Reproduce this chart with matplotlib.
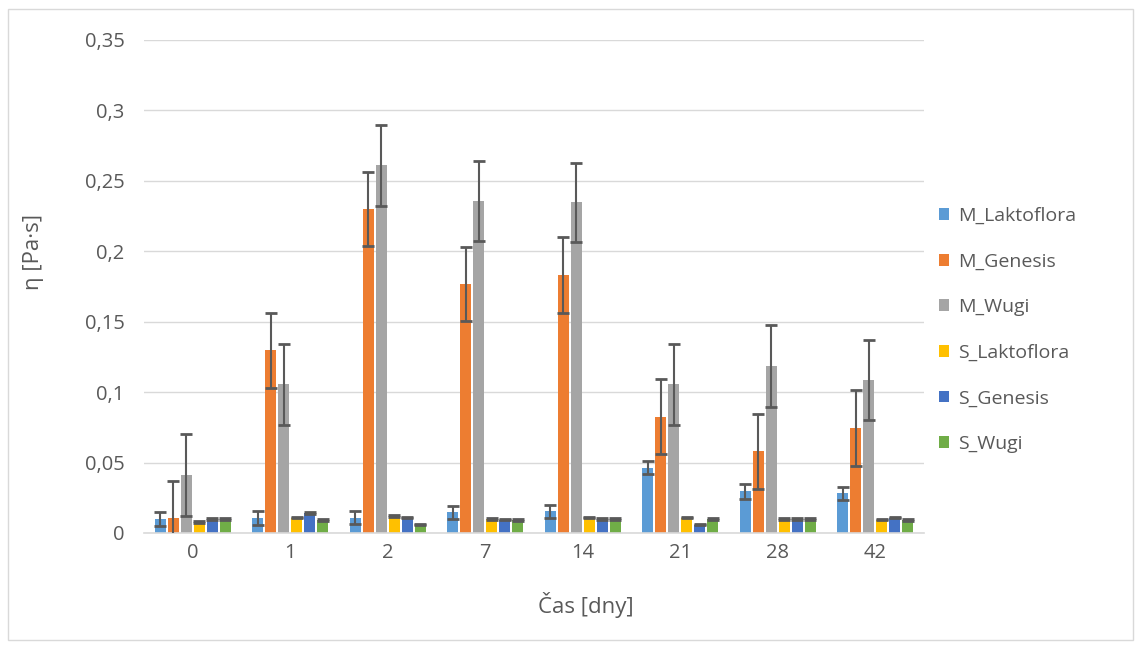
import matplotlib
matplotlib.use("Agg")
import matplotlib.pyplot as plt
import numpy as np
from matplotlib.ticker import FuncFormatter
from matplotlib.patches import Rectangle

categories = ["0", "1", "2", "7", "14", "21", "28", "42"]
series_names = ["M_Laktoflora", "M_Genesis", "M_Wugi", "S_Laktoflora", "S_Genesis", "S_Wugi"]

m_laktoflora = [0.0098, 0.0105, 0.011, 0.0148, 0.0153, 0.0465, 0.0297, 0.0283]
m_genesis = [0.0103, 0.1296, 0.2297, 0.1765, 0.183, 0.0827, 0.0579, 0.0745]
m_wugi = [0.041, 0.1055, 0.261, 0.2357, 0.2347, 0.1057, 0.1185, 0.1083]
s_laktoflora = [0.008, 0.011, 0.012, 0.010, 0.011, 0.011, 0.010, 0.0095]
s_genesis = [0.010, 0.014, 0.011, 0.0095, 0.010, 0.006, 0.010, 0.011]
s_wugi = [0.010, 0.009, 0.006, 0.009, 0.010, 0.010, 0.010, 0.009]

err_m_laktoflora = [0.005, 0.005, 0.0045, 0.0047, 0.0047, 0.0048, 0.0053, 0.0047]
err_m_genesis = [0.0263, 0.0264, 0.0263, 0.0263, 0.0269, 0.0263, 0.0265, 0.0267]
err_m_wugi = [0.029, 0.0289, 0.029, 0.0287, 0.0283, 0.0287, 0.0291, 0.0284]
err_s = [0.0006] * 8

colors = ["#5B9BD5", "#ED7D31", "#A5A5A5", "#FFC000", "#4472C4", "#70AD47"]

values = [m_laktoflora, m_genesis, m_wugi, s_laktoflora, s_genesis, s_wugi]
errors = [err_m_laktoflora, err_m_genesis, err_m_wugi, err_s, err_s, err_s]

plt.rcParams['font.family'] = ['Open Sans', 'DejaVu Sans']

fig = plt.figure(figsize=(11.41, 6.46), dpi=100)
ax = fig.add_axes([144/1141, 1-533/646, 780/1141, 493/646])

x = np.arange(len(categories))
step = 0.134
width = 0.113
handles = []
for i, (vals, errs, c, name) in enumerate(zip(values, errors, colors, series_names)):
    pos = x + (i - 2.5) * step
    b = ax.bar(pos, vals, width=width, color=c, label=name, zorder=2)
    ax.errorbar(pos, vals, yerr=errs, fmt='none', ecolor="#595959",
                elinewidth=1.5, capsize=4, capthick=2, zorder=3)
    handles.append(b)

ax.set_ylim(0, 0.35)
ax.set_xlim(-0.5, len(categories) - 0.5)
ax.set_yticks(np.arange(0, 0.351, 0.05))

def fmt(v, pos):
    s = ("%.2f" % v).rstrip('0').rstrip('.')
    return s.replace('.', ',')

ax.yaxis.set_major_formatter(FuncFormatter(fmt))
ax.set_xticks(x)
ax.set_xticklabels(categories)
ax.grid(axis='y', color='#D9D9D9', linewidth=1, zorder=0)
ax.set_axisbelow(True)
for s in ['top', 'right', 'left']:
    ax.spines[s].set_visible(False)
ax.spines['bottom'].set_color('#D9D9D9')
ax.spines['bottom'].set_linewidth(1.2)
ax.tick_params(axis='both', length=0, labelsize=14.5, colors='#595959')
ax.tick_params(axis='y', pad=14)
ax.tick_params(axis='x', pad=7)

ax.set_ylabel("η [Pa·s]", fontsize=16, color='#595959')
ax.set_xlabel("Čas [dny]", fontsize=16, color='#595959')
ax.yaxis.set_label_coords((33 - 144) / 780, (533 - 252) / 493)
ax.xaxis.set_label_coords((586 - 144) / 780, -(605 - 533) / 493)
ax.yaxis.label.set_va('center')
ax.xaxis.label.set_va('center')

fig.legend(handles=handles, labels=series_names, loc='center left',
           bbox_to_anchor=(921/1141, 1-330/646), frameon=False,
           fontsize=14, labelcolor='#595959', handlelength=0.55,
           handleheight=0.55, handletextpad=0.45, labelspacing=1.42)

fig.patches.append(Rectangle((8/1141, 1-640/646), 1125/1141, 631/646,
                             transform=fig.transFigure, fill=False,
                             edgecolor='#D9D9D9', linewidth=1))

fig.savefig("out.png", dpi=100)
